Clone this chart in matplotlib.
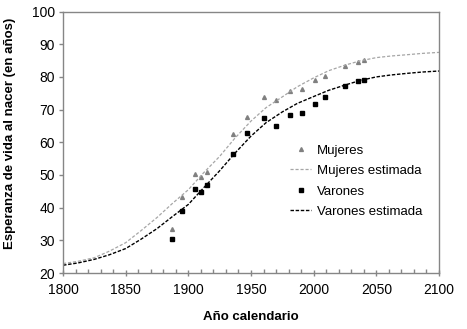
import matplotlib
matplotlib.use('Agg')
import matplotlib.pyplot as plt
from matplotlib.ticker import MultipleLocator

plt.rcParams['font.family'] = ['Liberation Sans', 'DejaVu Sans']

# Datos observados
anios_obs = [1887, 1895, 1905, 1910, 1915, 1936, 1947, 1960, 1970, 1981, 1991, 2001, 2009, 2025, 2035, 2040]
mujeres = [33.6, 43.3, 50.2, 49.4, 50.8, 62.4, 67.8, 74.0, 72.8, 75.7, 76.3, 79.2, 80.2, 83.2, 84.6, 85.1]
varones = [30.3, 39.0, 45.6, 44.7, 46.8, 56.5, 62.7, 67.3, 65.1, 68.5, 69.1, 71.7, 74.0, 77.1, 78.6, 79.1]

# Curvas estimadas
anios_est = [1800, 1812, 1825, 1837, 1850, 1862, 1875, 1887, 1900, 1912, 1925, 1937, 1950,
             1962, 1975, 1987, 2000, 2012, 2025, 2037, 2050, 2062, 2075, 2087, 2100]
mujeres_est = [22.9, 23.6, 24.7, 26.7, 29.3, 32.9, 37.0, 41.2, 45.5, 50.6, 55.7, 61.2, 66.5,
               70.6, 73.9, 77.0, 79.7, 81.9, 83.6, 84.9, 85.9, 86.4, 86.8, 87.2, 87.5]
varones_est = [22.4, 23.1, 24.2, 25.6, 27.5, 30.3, 33.6, 37.2, 41.0, 46.0, 51.3, 56.6, 61.9,
               66.0, 69.3, 71.9, 74.0, 75.9, 77.5, 78.9, 80.0, 80.6, 81.1, 81.5, 81.8]

fig = plt.figure(figsize=(4.67, 3.29), dpi=100)
ax = fig.add_axes([0.135, 0.170, 0.805, 0.795])

ax.plot(anios_obs, mujeres, linestyle='none', marker='^', markersize=2.8,
        color='#808080', label='Mujeres')
ax.plot(anios_est, mujeres_est, linestyle=(0, (2.5, 1.5)), linewidth=0.9,
        color='#a6a6a6', label='Mujeres estimada')
ax.plot(anios_obs, varones, linestyle='none', marker='s', markersize=2.2,
        color='black', label='Varones')
ax.plot(anios_est, varones_est, linestyle=(0, (2.5, 1.2)), linewidth=1.0,
        color='black', label='Varones estimada')

ax.set_xlim(1800, 2100)
ax.set_ylim(20, 100)
ax.xaxis.set_major_locator(MultipleLocator(50))
ax.xaxis.set_minor_locator(MultipleLocator(10))
ax.yaxis.set_major_locator(MultipleLocator(10))

for spine in ax.spines.values():
    spine.set_color('#868686')
    spine.set_linewidth(1)

ax.tick_params(axis='x', which='major', direction='inout', length=5, width=1,
               color='#868686', labelsize=10, pad=5)
ax.tick_params(axis='x', which='minor', direction='in', length=3, width=1, color='#868686')
ax.tick_params(axis='y', which='major', direction='out', length=3, width=1,
               color='#868686', labelsize=10, pad=3)

ax.set_xlabel('Año calendario', fontsize=9.5, fontweight='bold')
ax.set_ylabel('Esperanza de vida al nacer (en años)', fontsize=9.5, fontweight='bold')
ax.xaxis.set_label_coords(0.5, -0.145)
ax.yaxis.set_label_coords(-0.125, 0.535)

ax.legend(loc='upper left', bbox_to_anchor=(0.59, 0.512), frameon=False, fontsize=9.5,
          handlelength=1.6, handletextpad=0.45, labelspacing=0.62, borderaxespad=0)

fig.savefig('out.png', dpi=100)
